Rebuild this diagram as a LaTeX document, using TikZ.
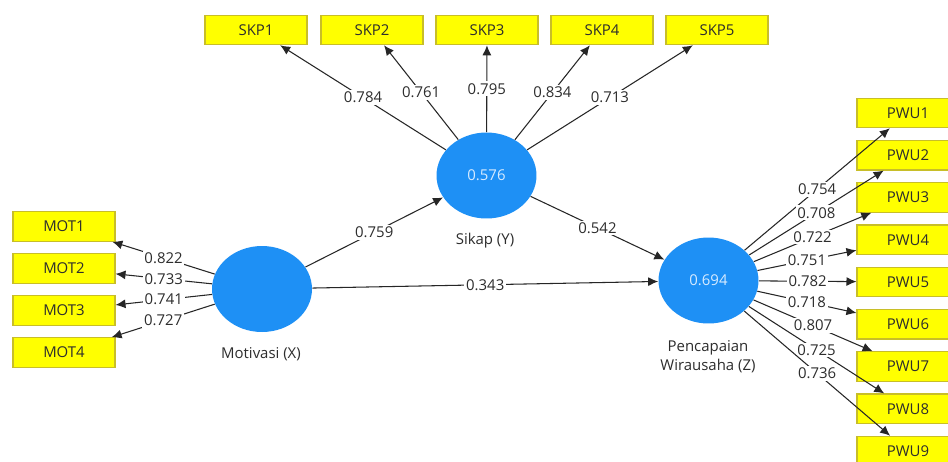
\documentclass[tikz,border=0pt]{standalone}
\usepackage{fontspec}
\setmainfont{Open Sans}
\usetikzlibrary{shapes.geometric,arrows.meta}
\definecolor{plsblue}{RGB}{30,144,245}
\definecolor{plsyellow}{RGB}{255,255,0}
\definecolor{plsborder}{RGB}{200,190,40}
\definecolor{valtext}{RGB}{215,235,255}
\definecolor{ink}{RGB}{45,45,45}
\begin{document}
\begin{tikzpicture}[x=0.02cm,y=-0.02cm,
  font=\fontsize{8.5}{10.8}\selectfont,
  lv/.style={ellipse, fill=plsblue, minimum width=2cm, minimum height=1.72cm, inner sep=0pt, text=valtext},
  lvlabel/.style={text=ink, inner sep=1pt},
  ind/.style={rectangle, fill=plsyellow, draw=plsborder, line width=0.6pt, minimum width=2.04cm, minimum height=0.59cm, inner sep=0pt, text=ink},
  conn/.style={draw=black!85, line width=0.6pt, -{Latex[length=2mm,width=1.8mm]}},
  wt/.style={midway, fill=white, inner sep=1pt, text=ink}]
\useasboundingbox (0,0) rectangle (948,461);
\fill[white] (0,0) rectangle (948,461);
\clip (0,0) rectangle (948,461);
% latent variables
\node[lv] (Y) at (486.5,175.5) {0.576};
\node[lv] (X) at (262,289) {};
\node[lv] (Z) at (708.5,280.5) {0.694};
\node[lvlabel] (Ylab) at (485,241) {Sikap (Y)};
\node[lvlabel] (Xlab) at (261,354) {Motivasi (X)};
\node[lvlabel, align=center] (Zlab) at (708,356.5) {Pencapaian\\Wirausaha (Z)};
% indicators
\foreach \i/\x in {1/256,2/372,3/487,4/602,5/717}
  \node[ind] (SKP\i) at (\x,30) {SKP\i};
\foreach \i/\y in {1/226.5,2/268.5,3/310.5,4/352.5}
  \node[ind] (MOT\i) at (64,\y) {MOT\i};
\foreach \i in {1,...,9}
  \node[ind] (PWU\i) at (908,{113+42.25*(\i-1)}) {PWU\i};
% outer loadings
\foreach \i/\w in {1/0.784,2/0.761,3/0.795,4/0.834,5/0.713}
  \draw[conn] (Y) -- node[wt]{\w} (SKP\i);
\foreach \i/\w in {1/0.822,2/0.733,3/0.741,4/0.727}
  \draw[conn] (X) -- node[wt]{\w} (MOT\i);
\foreach \i/\w in {1/0.754,2/0.708,3/0.722,4/0.751,5/0.782,6/0.718,7/0.807,8/0.725,9/0.736}
  \draw[conn] (Z) -- node[wt]{\w} (PWU\i);
% path coefficients
\draw[conn] (X) -- node[wt]{0.759} (Y);
\draw[conn] (Y) -- node[wt]{0.542} (Z);
\draw[conn] (X) -- node[wt]{0.343} (Z);
\end{tikzpicture}
\end{document}
